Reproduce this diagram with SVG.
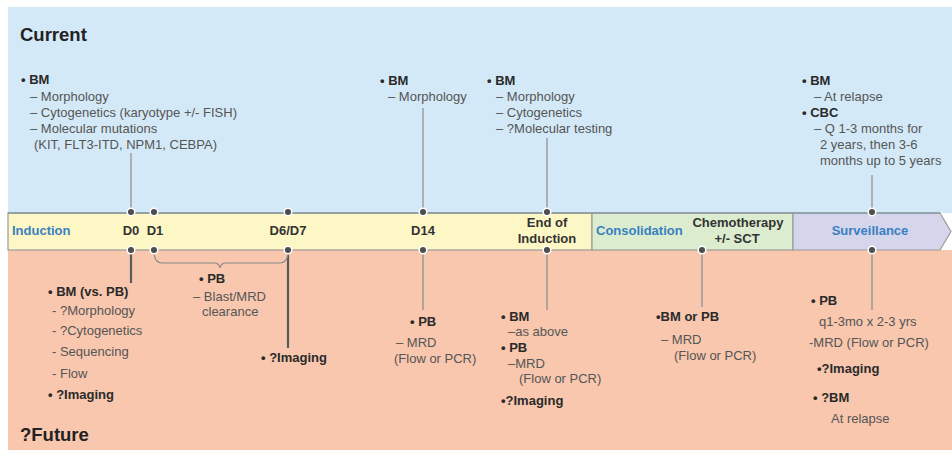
<svg xmlns="http://www.w3.org/2000/svg" width="952" height="454" viewBox="0 0 952 454">
<style>
text{font-family:"Liberation Sans",Arial,sans-serif;font-size:13px;fill:#555}
.b{font-weight:bold;fill:#2a2a2a}
.h{font-weight:bold;font-size:18.5px;fill:#222}
.ph{font-weight:bold;fill:#3a80c0}
.lbl{font-weight:bold;fill:#333;text-anchor:middle}
.lt{stroke:#8c8c8c;stroke-width:1.2;fill:none}
.lb{stroke:#999;stroke-width:1.5;fill:none}
.ld{stroke:#5a5a5a;stroke-width:2.2;fill:none}
.dot{fill:#4e4e4e;stroke:#fff;stroke-width:1.5}
.seg{stroke:#9a9a9a;stroke-width:1.2}
</style>
<g id="backgrounds">
<rect x="8" y="7" width="944" height="206" fill="#d4e9f7"/>
<rect x="8" y="250" width="944" height="200" fill="#f8c7ae"/>
<text class="h" x="20" y="41">Current</text>
<text class="h" x="20" y="441">?Future</text>
</g>
<g id="band">
<rect class="seg" x="8" y="213" width="584" height="37" fill="#fdf7c5"/>
<rect class="seg" x="592" y="213" width="201" height="37" fill="#dcecce"/>
<polygon class="seg" points="793,213 940,213 951,231.5 940,250 793,250" fill="#d5d5ec"/>
<line x1="8" y1="213" x2="940" y2="213" stroke="#8a98a0" stroke-width="1.6"/>
<text class="ph" x="12" y="235">Induction</text>
<text class="ph" x="596" y="235">Consolidation</text>
<text class="ph" x="870" y="235" text-anchor="middle">Surveillance</text>
<text class="lbl" x="131" y="235">D0</text>
<text class="lbl" x="155" y="235">D1</text>
<text class="lbl" x="288" y="235">D6/D7</text>
<text class="lbl" x="423" y="235">D14</text>
<text class="lbl" x="547" y="227">End of</text>
<text class="lbl" x="547" y="243">Induction</text>
<text class="lbl" x="738" y="227">Chemotherapy</text>
<text class="lbl" x="737" y="243">+/- SCT</text>
</g>
<g id="connectors">
<line class="lt" x1="131" y1="153" x2="131" y2="212"/>
<line class="lt" x1="423" y1="108" x2="423" y2="212"/>
<line class="lt" x1="547" y1="138" x2="547" y2="212"/>
<line class="lt" x1="872" y1="175" x2="872" y2="212"/>
<line class="ld" x1="131" y1="250" x2="131" y2="283"/>
<line class="ld" x1="288" y1="250" x2="288" y2="348"/>
<line class="lb" x1="423" y1="250" x2="423" y2="310"/>
<line class="lb" x1="547" y1="250" x2="547" y2="310"/>
<line class="lb" x1="702" y1="250" x2="702" y2="307"/>
<line class="lb" x1="872" y1="250" x2="872" y2="310"/>
<path d="M154,251 Q154,263 162,263 L214,263 Q219,263 220,268 Q221,263 226,263 L280,263 Q288,263 288,251" stroke="#8a8a8a" stroke-width="1.2" fill="none"/>
</g>
<g id="dots">
<circle class="dot" cx="131" cy="212" r="3.8"/>
<circle class="dot" cx="154" cy="212" r="3.8"/>
<circle class="dot" cx="288" cy="212" r="3.8"/>
<circle class="dot" cx="423" cy="212" r="3.8"/>
<circle class="dot" cx="547" cy="212" r="3.8"/>
<circle class="dot" cx="872" cy="212" r="3.8"/>
<circle class="dot" cx="131" cy="250" r="3.8"/>
<circle class="dot" cx="154" cy="250" r="3.8"/>
<circle class="dot" cx="288" cy="250" r="3.8"/>
<circle class="dot" cx="423" cy="250" r="3.8"/>
<circle class="dot" cx="547" cy="250" r="3.8"/>
<circle class="dot" cx="702" cy="250" r="3.8"/>
<circle class="dot" cx="872" cy="250" r="3.8"/>
</g>
<g id="node-d0-current">
<text class="b" x="21" y="84">• BM</text>
<text x="30" y="101">– Morphology</text>
<text x="30" y="117">– Cytogenetics (karyotype +/- FISH)</text>
<text x="30" y="133">– Molecular mutations</text>
<text x="34" y="149">(KIT, FLT3-ITD, NPM1, CEBPA)</text>
</g>
<g id="node-d14-current">
<text class="b" x="380" y="85">• BM</text>
<text x="388" y="101">– Morphology</text>
</g>
<g id="node-end-current">
<text class="b" x="487" y="85">• BM</text>
<text x="496" y="101">– Morphology</text>
<text x="496" y="117">– Cytogenetics</text>
<text x="496" y="133">– ?Molecular testing</text>
</g>
<g id="node-surv-current">
<text class="b" x="802" y="85">• BM</text>
<text x="814" y="101">– At relapse</text>
<text class="b" x="802" y="117">• CBC</text>
<text x="814" y="133">– Q 1-3 months for</text>
<text x="820" y="149">2 years, then 3-6</text>
<text x="820" y="165">months up to 5 years</text>
</g>
<g id="node-d0-future">
<text class="b" x="48" y="296">• BM (vs. PB)</text>
<text x="52" y="315">- ?Morphology</text>
<text x="52" y="335">- ?Cytogenetics</text>
<text x="52" y="356">- Sequencing</text>
<text x="52" y="378">- Flow</text>
<text class="b" x="48" y="399">• ?Imaging</text>
</g>
<g id="node-pb-clearance">
<text class="b" x="199" y="283">•  PB</text>
<text x="193" y="301">– Blast/MRD</text>
<text x="202" y="316">clearance</text>
</g>
<g id="node-d67-future">
<text class="b" x="261" y="362">• ?Imaging</text>
</g>
<g id="node-d14-future">
<text class="b" x="410" y="326">• PB</text>
<text x="396" y="347">– MRD</text>
<text x="394" y="363">(Flow or PCR)</text>
</g>
<g id="node-end-future">
<text class="b" x="501" y="321">• BM</text>
<text x="508" y="336">–as above</text>
<text class="b" x="501" y="352">• PB</text>
<text x="508" y="368">–MRD</text>
<text x="519" y="383">(Flow or PCR)</text>
<text class="b" x="501" y="405">•?Imaging</text>
</g>
<g id="node-chemo-future">
<text class="b" x="656" y="321">•BM or PB</text>
<text x="661" y="344">– MRD</text>
<text x="674" y="360">(Flow or PCR)</text>
</g>
<g id="node-surv-future">
<text class="b" x="811" y="305">• PB</text>
<text x="819" y="326">q1-3mo x 2-3 yrs</text>
<text x="809" y="347">-MRD (Flow or PCR)</text>
<text class="b" x="817" y="373">•?Imaging</text>
<text class="b" x="813" y="402">• ?BM</text>
<text x="831" y="423">At relapse</text>
</g>
</svg>
